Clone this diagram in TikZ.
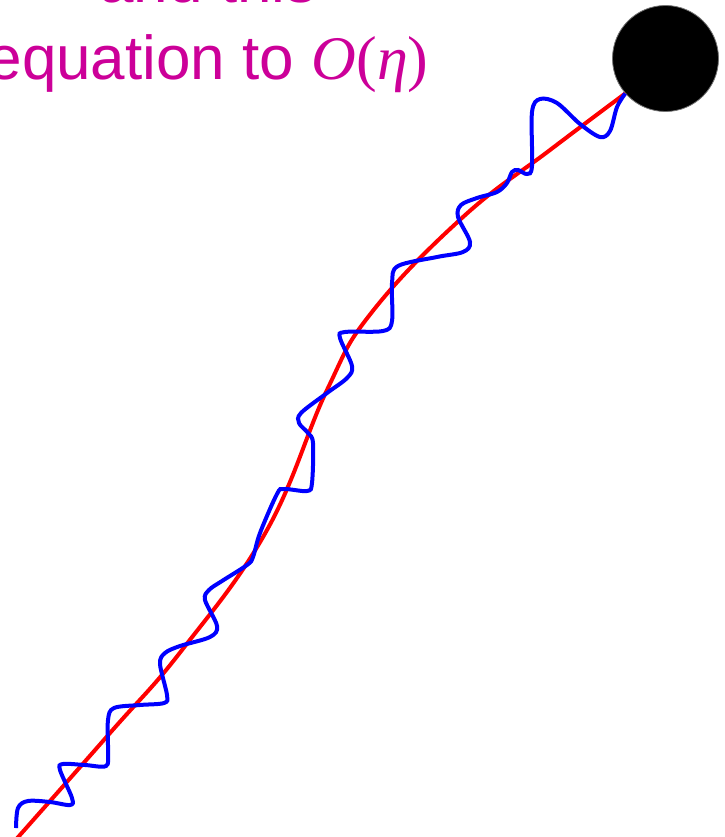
\documentclass[tikz,border=0pt]{standalone}
\usepackage{fontspec}
\setmainfont{Liberation Sans}
\newfontfamily\timesfont{Liberation Serif}
\definecolor{eqmagenta}{RGB}{204,0,153}
\tikzset{
    caption/.style={eqmagenta, anchor=base, inner sep=0pt, font=\fontsize{62}{78}\selectfont},
    ball/.style={circle, fill=black, draw=black!55, line width=0.8pt, minimum size=106pt, inner sep=0pt}
}
\begin{document}
\begin{tikzpicture}[x=1pt, y=-1pt]
    \useasboundingbox (0,0) rectangle (724,837);
    \clip (0,0) rectangle (724,837);

    \node[caption] (topline) at (208,2.5) {and this};
    \node[caption] (eqline) at (208,80)
        {equation to {\timesfont\itshape O}{\timesfont(}{\timesfont\itshape η}{\timesfont)}};

    \node[ball] (ball) at (665.5,58.5) {};
    \coordinate (start) at (12,844);

    % classical path
    \draw[red, line width=4pt, smooth, tension=0.7]
        plot coordinates {(start) (110,733) (182,650) (267,530) (327,390)
                          (372,312) (463,217) (550,150) (ball.221)};

    % fluctuating path
    \draw[blue, line width=4pt, smooth, tension=0.55]
        plot coordinates {(16,828) (18,808) (28,801) (50,802) (70,805) (72,798)
                          (60,770) (63,764) (85,765) (106,766) (108,752)
                          (108,720) (114,708) (140,705) (164,703) (167,695)
                          (160,664) (165,653) (180,646) (210,637) (217,626)
                          (205,600) (209,590) (222,581) (247,565) (253,557)
                          (260,533) (277,494) (284,489) (307,491) (312,483)
                          (313,443) (308,433) (299,423) (301,413) (327,393)
                          (347,378) (352,366) (340,338) (345,332) (383,331)
                          (392,321) (392,283) (398,266) (437,257) (463,252)
                          (470,242) (458,217) (461,205) (477,198) (497,192)
                          (507,183) (512,172) (518,170) (527,174) (532,166)
                          (532,112) (540,99) (557,103) (580,124) (600,137)
                          (610,131) (617,107) (ball.221)};
\end{tikzpicture}
\end{document}
